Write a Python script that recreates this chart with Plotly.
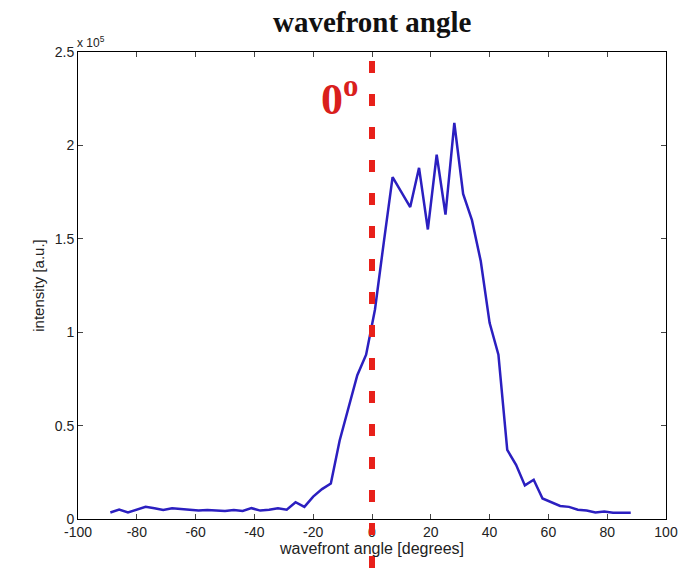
import plotly.graph_objects as go

angle_deg = [-89, -86, -83, -80, -77, -74, -71, -68, -65, -62, -59, -56, -53, -50, -47,
             -44, -41, -38, -35, -32, -29, -26, -23, -20, -17, -14, -11, -8, -5, -2,
             1, 4, 7, 10, 13, 16, 19, 22, 25, 28, 31, 34, 37, 40, 43,
             46, 49, 52, 55, 58, 61, 64, 67, 70, 73, 76, 79, 82, 85, 88]
intensity_e5 = [0.035, 0.05, 0.035, 0.05, 0.065, 0.058, 0.048, 0.058, 0.055, 0.05, 0.045, 0.048, 0.045, 0.043, 0.048,
                0.043, 0.058, 0.045, 0.05, 0.058, 0.05, 0.09, 0.065, 0.12, 0.16, 0.19, 0.42, 0.6, 0.77, 0.88,
                1.12, 1.48, 1.83, 1.75, 1.67, 1.88, 1.55, 1.95, 1.63, 2.12, 1.74, 1.60, 1.38, 1.05, 0.88,
                0.37, 0.29, 0.18, 0.21, 0.11, 0.09, 0.07, 0.065, 0.05, 0.045, 0.035, 0.04, 0.033, 0.033, 0.033]

x_ticks = [-100, -80, -60, -40, -20, 0, 20, 40, 60, 80, 100]
x_tick_text = ["-100", "-80", "-60", "-40", "-20", "0", "20", "40", "60", "80", "100"]
y_ticks = [0, 0.5, 1, 1.5, 2, 2.5]
y_tick_text = ["0", "0.5", "1", "1.5", "2", "2.5"]

fig = go.Figure()
fig.add_trace(go.Scatter(x=angle_deg, y=intensity_e5, mode="lines",
                         line=dict(color="#2b1fc0", width=2.5), showlegend=False))

axis_font = dict(family="Liberation Sans, Arial, sans-serif", size=14, color="#222")
fig.update_xaxes(range=[-100, 100], tickvals=x_ticks, ticktext=x_tick_text, ticks="inside", ticklen=5,
                 showline=True, linecolor="black", linewidth=1, mirror="ticks",
                 showgrid=False, zeroline=False, tickfont=axis_font, automargin=False,
                 title=dict(text="wavefront angle [degrees]", font=dict(family="Liberation Sans, Arial, sans-serif", size=16, color="#222"), standoff=4))
fig.update_yaxes(range=[0, 2.5], tickvals=y_ticks, ticktext=y_tick_text, ticks="inside", ticklen=5,
                 showline=True, linecolor="black", linewidth=1, mirror="ticks",
                 showgrid=False, zeroline=False, tickfont=axis_font, automargin=False,
                 title=dict(text="intensity [a.u.]", font=dict(family="Liberation Sans, Arial, sans-serif", size=15, color="#222"), standoff=6))

fig.add_shape(type="line", xref="x", yref="paper", x0=0, x1=0, y0=-0.105, y1=1.0,
              line=dict(color="#e8201a", width=6, dash="12px,21px"))

fig.add_annotation(xref="paper", yref="paper", x=-0.005, y=1.0, xanchor="left", yanchor="bottom",
                   text="x 10<sup>5</sup>", showarrow=False,
                   font=dict(family="Liberation Sans, Arial, sans-serif", size=12, color="#222"))
fig.add_annotation(xref="x", yref="paper", x=-11, y=0.905, xanchor="center", yanchor="middle",
                   text="<b>0<sup>o</sup></b>", showarrow=False,
                   font=dict(family="Liberation Serif, Times New Roman, serif", size=44, color="#d9201c"))

fig.update_layout(
    width=678, height=568,
    margin=dict(l=78, r=12, t=52, b=49),
    paper_bgcolor="white", plot_bgcolor="white",
    title=dict(text="<b>wavefront angle</b>", x=0.549, xanchor="center", y=0.962, yanchor="middle",
               font=dict(family="Liberation Serif, Times New Roman, serif", size=29, color="#111")),
)

fig.write_html("out.html")
